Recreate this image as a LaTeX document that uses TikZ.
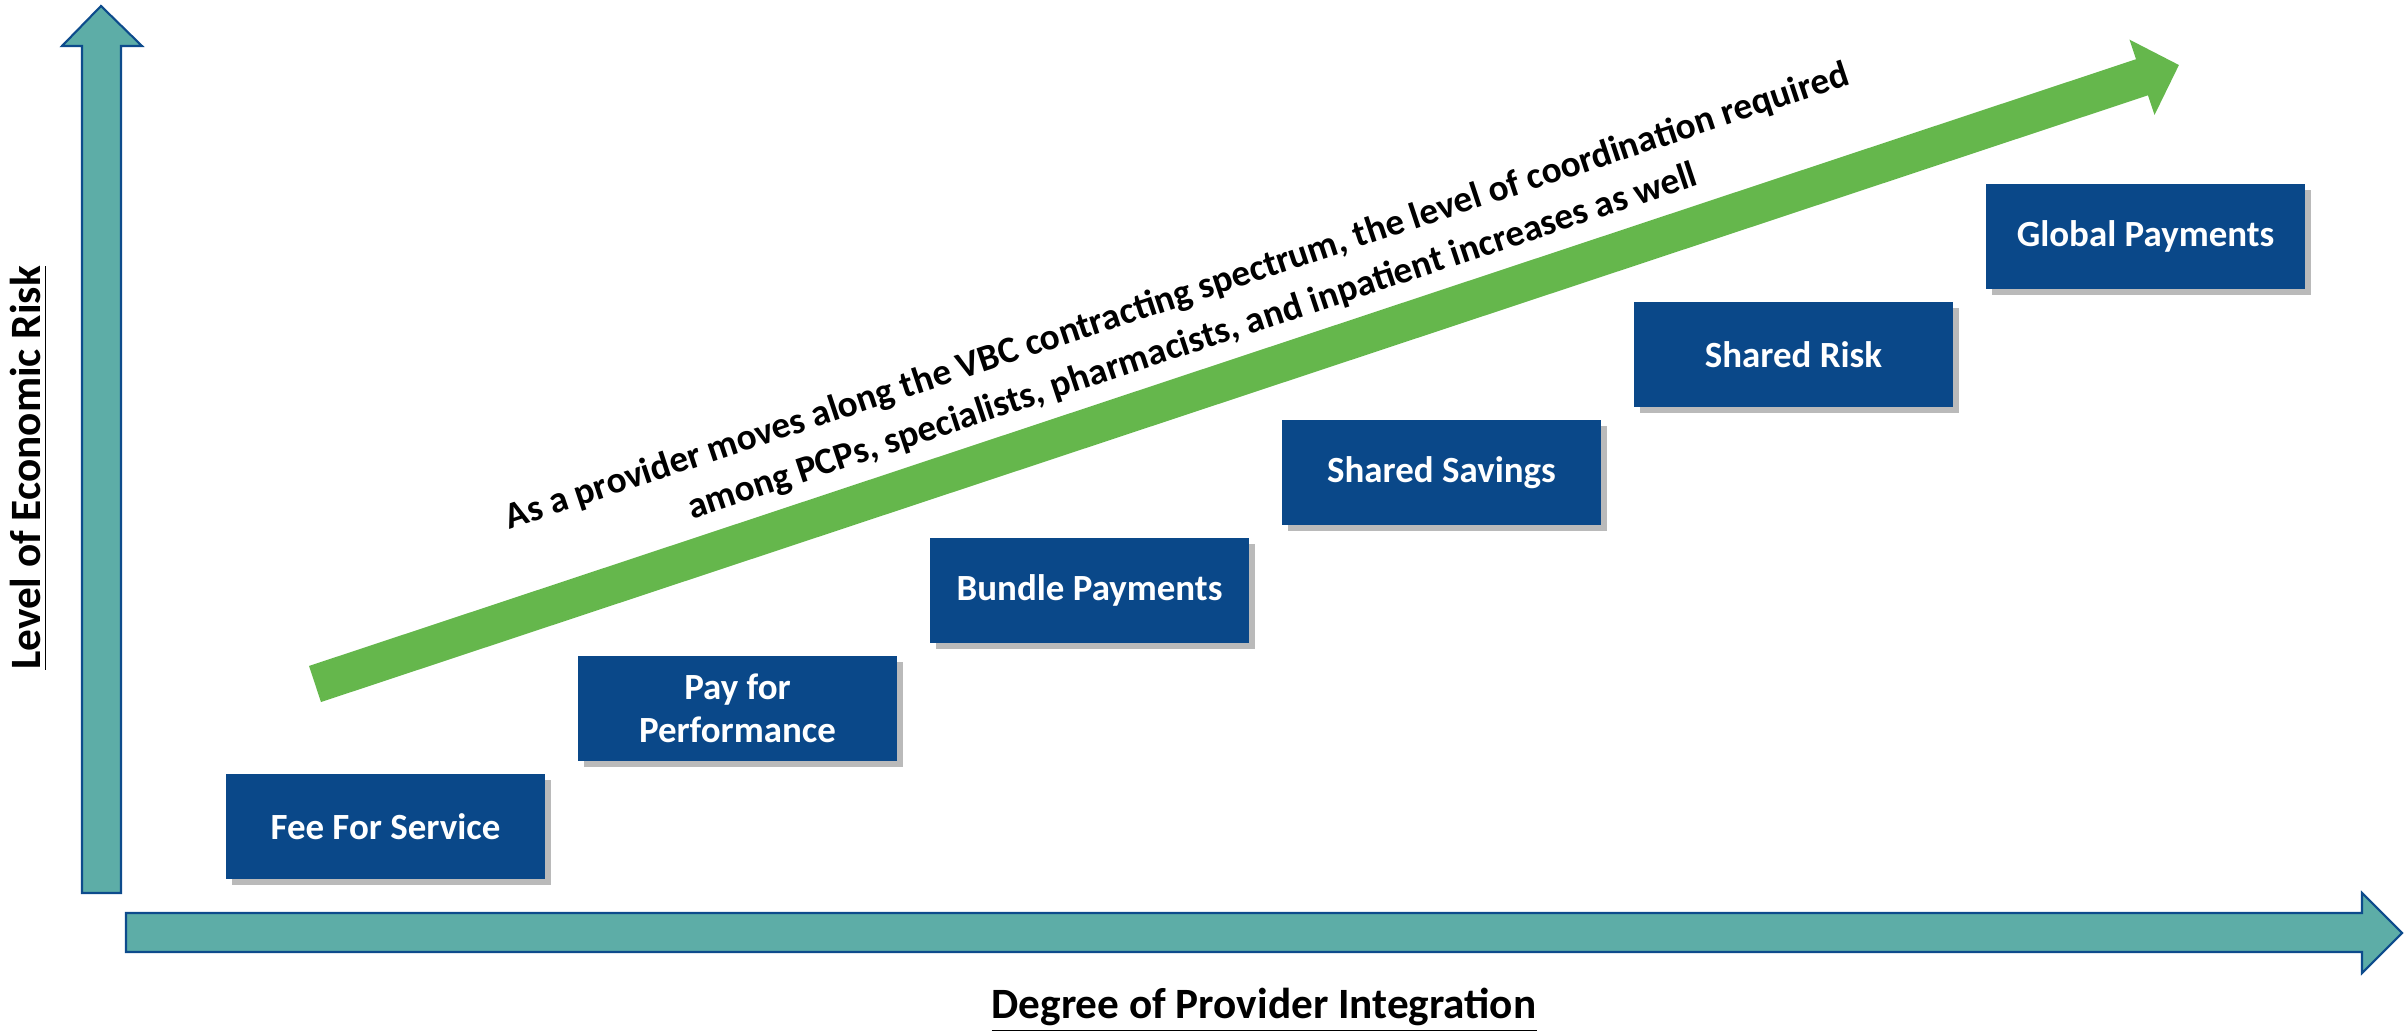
\documentclass[tikz,border=0pt]{standalone}
\usepackage{fontspec}
\setmainfont{Carlito}
\usetikzlibrary{arrows.meta,shadows}

\definecolor{axisteal}{HTML}{5DADA7}
\definecolor{axisblue}{HTML}{0D4B8C}
\definecolor{boxblue}{HTML}{0A4889}
\definecolor{trendgreen}{HTML}{65B74C}

\tikzset{
  axis arrow/.style={fill=axisteal, draw=axisblue, line width=0.6pt, line join=miter},
  pay box/.style={fill=boxblue, text=white, font=\bfseries\fontsize{10.5}{12.3}\selectfont,
    align=center, minimum width=3.19cm, minimum height=1.05cm, inner sep=0pt,
    drop shadow={shadow xshift=0.06cm, shadow yshift=-0.06cm, opacity=0.45, fill=black!60}},
  axis label/.style={font=\bfseries\fontsize{12.3}{14}\selectfont}
}

\begin{document}
\begin{tikzpicture}[x=0.01cm,y=-0.01cm]
\useasboundingbox (0,0) rectangle (2407,1031);

% the two axes
\draw[axis arrow] (82,893) -- (82,46) -- (62,46) -- (101,6) -- (142,46) -- (121,46) -- (121,893) -- cycle;
\draw[axis arrow] (126,913) -- (2362,913) -- (2362,893) -- (2402,933) -- (2362,973) -- (2362,952) -- (126,952) -- cycle;

\node[axis label, rotate=90] (risk) at (29,468) {\underline{Level of Economic Risk}};
\node[axis label] (integration) at (1264,1010) {\underline{Degree of Provider Integration}};

% the green trend
\coordinate (tstart) at (315,684);
\coordinate (tend) at (2179,65);
\draw[trendgreen, line width=0.38cm, -{Triangle[length=0.39cm,width=0.77cm]}] (tstart) -- (tend);

\node[rotate=18.35, align=center, font=\bfseries\fontsize{10.6}{13.6}\selectfont, inner sep=0pt] (note) at (1185,320)
  {As a provider moves along the VBC contracting spectrum, the level of coordination required\\
   among PCPs, specialists, pharmacists, and inpatient increases as well};

% the payment models
\foreach \nm/\lbl [count=\i from 0] in {fee/Fee For Service, pfp/Pay for\\Performance, bundle/Bundle Payments,
    savings/Shared Savings, shrisk/Shared Risk, global/Global Payments}{
  \node[pay box] (\nm) at (385.5+352*\i, 826.5-118*\i) {\lbl};
}

\end{tikzpicture}
\end{document}
